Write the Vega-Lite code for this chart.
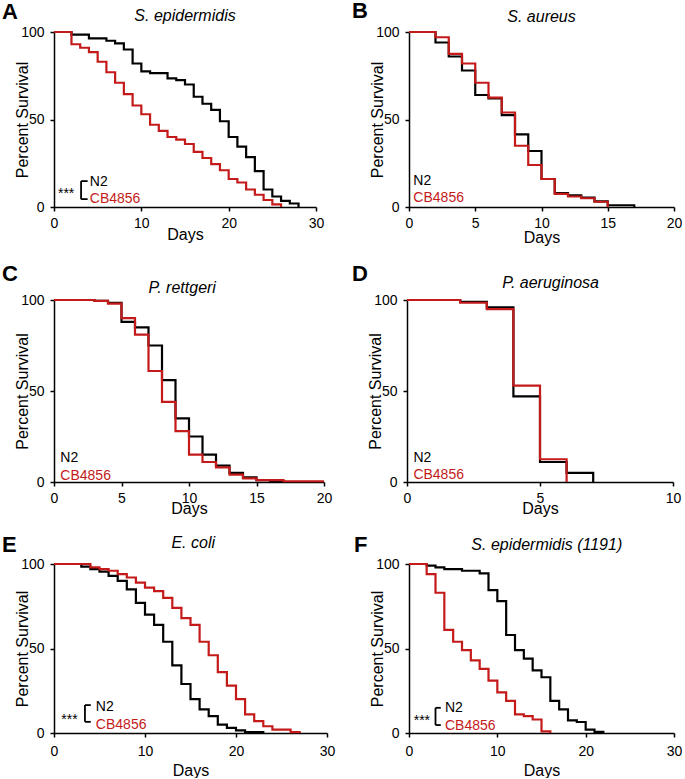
{
  "$schema": "https://vega.github.io/schema/vega-lite/v6.json",
  "background": "white",
  "padding": {"left": 2, "top": 0, "right": 0, "bottom": 0},
  "spacing": 18,
  "datasets": {
    "surv": [
      {"panel":"A","strain":"N2","day":0,"survival":100},{"panel":"A","strain":"N2","day":2,"survival":98.5},{"panel":"A","strain":"N2","day":4,"survival":96.4},{"panel":"A","strain":"N2","day":6,"survival":95},{"panel":"A","strain":"N2","day":7,"survival":93.5},{"panel":"A","strain":"N2","day":8,"survival":90},{"panel":"A","strain":"N2","day":9,"survival":82},{"panel":"A","strain":"N2","day":10,"survival":77.5},{"panel":"A","strain":"N2","day":11,"survival":76.5},{"panel":"A","strain":"N2","day":13,"survival":73.5},{"panel":"A","strain":"N2","day":14,"survival":72.5},{"panel":"A","strain":"N2","day":15,"survival":70},{"panel":"A","strain":"N2","day":16,"survival":63},{"panel":"A","strain":"N2","day":17,"survival":59},{"panel":"A","strain":"N2","day":18,"survival":55.5},{"panel":"A","strain":"N2","day":19,"survival":49},{"panel":"A","strain":"N2","day":20,"survival":40},{"panel":"A","strain":"N2","day":21,"survival":34.5},{"panel":"A","strain":"N2","day":22,"survival":28.5},{"panel":"A","strain":"N2","day":23,"survival":20.5},{"panel":"A","strain":"N2","day":24,"survival":10},{"panel":"A","strain":"N2","day":25,"survival":6},{"panel":"A","strain":"N2","day":26,"survival":3.5},{"panel":"A","strain":"N2","day":27,"survival":2},{"panel":"A","strain":"N2","day":28,"survival":0},
      {"panel":"A","strain":"CB4856","day":0,"survival":100},{"panel":"A","strain":"CB4856","day":2,"survival":93},{"panel":"A","strain":"CB4856","day":3,"survival":91},{"panel":"A","strain":"CB4856","day":4,"survival":88.5},{"panel":"A","strain":"CB4856","day":5,"survival":83},{"panel":"A","strain":"CB4856","day":6,"survival":77},{"panel":"A","strain":"CB4856","day":7,"survival":71},{"panel":"A","strain":"CB4856","day":8,"survival":64.5},{"panel":"A","strain":"CB4856","day":9,"survival":58},{"panel":"A","strain":"CB4856","day":10,"survival":53},{"panel":"A","strain":"CB4856","day":11,"survival":47},{"panel":"A","strain":"CB4856","day":12,"survival":43.5},{"panel":"A","strain":"CB4856","day":13,"survival":40},{"panel":"A","strain":"CB4856","day":14,"survival":38.5},{"panel":"A","strain":"CB4856","day":15,"survival":36},{"panel":"A","strain":"CB4856","day":16,"survival":31.5},{"panel":"A","strain":"CB4856","day":17,"survival":28},{"panel":"A","strain":"CB4856","day":18,"survival":24.5},{"panel":"A","strain":"CB4856","day":19,"survival":21},{"panel":"A","strain":"CB4856","day":20,"survival":16},{"panel":"A","strain":"CB4856","day":21,"survival":14},{"panel":"A","strain":"CB4856","day":22,"survival":10},{"panel":"A","strain":"CB4856","day":23,"survival":7},{"panel":"A","strain":"CB4856","day":24,"survival":4},{"panel":"A","strain":"CB4856","day":25,"survival":1.5},{"panel":"A","strain":"CB4856","day":26,"survival":0},
      {"panel":"B","strain":"N2","day":0,"survival":100},{"panel":"B","strain":"N2","day":2,"survival":94},{"panel":"B","strain":"N2","day":3,"survival":86},{"panel":"B","strain":"N2","day":4,"survival":78},{"panel":"B","strain":"N2","day":5,"survival":64},{"panel":"B","strain":"N2","day":6,"survival":62},{"panel":"B","strain":"N2","day":7,"survival":52.5},{"panel":"B","strain":"N2","day":8,"survival":41.5},{"panel":"B","strain":"N2","day":9,"survival":32},{"panel":"B","strain":"N2","day":10,"survival":16},{"panel":"B","strain":"N2","day":11,"survival":8},{"panel":"B","strain":"N2","day":12,"survival":6.6},{"panel":"B","strain":"N2","day":13,"survival":5.4},{"panel":"B","strain":"N2","day":14,"survival":3.2},{"panel":"B","strain":"N2","day":15,"survival":1},{"panel":"B","strain":"N2","day":17,"survival":0},
      {"panel":"B","strain":"CB4856","day":0,"survival":100},{"panel":"B","strain":"CB4856","day":2,"survival":97},{"panel":"B","strain":"CB4856","day":3,"survival":87.5},{"panel":"B","strain":"CB4856","day":4,"survival":82},{"panel":"B","strain":"CB4856","day":5,"survival":71},{"panel":"B","strain":"CB4856","day":6,"survival":62.5},{"panel":"B","strain":"CB4856","day":7,"survival":54},{"panel":"B","strain":"CB4856","day":8,"survival":35},{"panel":"B","strain":"CB4856","day":9,"survival":24},{"panel":"B","strain":"CB4856","day":10,"survival":16},{"panel":"B","strain":"CB4856","day":11,"survival":7.5},{"panel":"B","strain":"CB4856","day":12,"survival":6},{"panel":"B","strain":"CB4856","day":13,"survival":5},{"panel":"B","strain":"CB4856","day":14,"survival":3},{"panel":"B","strain":"CB4856","day":15,"survival":0},
      {"panel":"C","strain":"N2","day":0,"survival":100},{"panel":"C","strain":"N2","day":3,"survival":99.5},{"panel":"C","strain":"N2","day":4,"survival":98.5},{"panel":"C","strain":"N2","day":5,"survival":88},{"panel":"C","strain":"N2","day":6,"survival":85},{"panel":"C","strain":"N2","day":7,"survival":75},{"panel":"C","strain":"N2","day":8,"survival":56},{"panel":"C","strain":"N2","day":9,"survival":35},{"panel":"C","strain":"N2","day":10,"survival":25},{"panel":"C","strain":"N2","day":11,"survival":15},{"panel":"C","strain":"N2","day":12,"survival":9},{"panel":"C","strain":"N2","day":13,"survival":5},{"panel":"C","strain":"N2","day":14,"survival":2.5},{"panel":"C","strain":"N2","day":15,"survival":1},{"panel":"C","strain":"N2","day":16,"survival":0.5},{"panel":"C","strain":"N2","day":17,"survival":0},
      {"panel":"C","strain":"CB4856","day":0,"survival":100},{"panel":"C","strain":"CB4856","day":3,"survival":99.5},{"panel":"C","strain":"CB4856","day":4,"survival":98},{"panel":"C","strain":"CB4856","day":5,"survival":90},{"panel":"C","strain":"CB4856","day":6,"survival":81},{"panel":"C","strain":"CB4856","day":7,"survival":61},{"panel":"C","strain":"CB4856","day":8,"survival":44},{"panel":"C","strain":"CB4856","day":9,"survival":28},{"panel":"C","strain":"CB4856","day":10,"survival":15},{"panel":"C","strain":"CB4856","day":11,"survival":11},{"panel":"C","strain":"CB4856","day":12,"survival":8},{"panel":"C","strain":"CB4856","day":13,"survival":4},{"panel":"C","strain":"CB4856","day":14,"survival":2},{"panel":"C","strain":"CB4856","day":15,"survival":1},{"panel":"C","strain":"CB4856","day":17,"survival":0.4},{"panel":"C","strain":"CB4856","day":20,"survival":0.4},
      {"panel":"D","strain":"N2","day":0,"survival":100},{"panel":"D","strain":"N2","day":2,"survival":99},{"panel":"D","strain":"N2","day":3,"survival":96},{"panel":"D","strain":"N2","day":4,"survival":47},{"panel":"D","strain":"N2","day":5,"survival":11},{"panel":"D","strain":"N2","day":6,"survival":5},{"panel":"D","strain":"N2","day":7,"survival":0},
      {"panel":"D","strain":"CB4856","day":0,"survival":100},{"panel":"D","strain":"CB4856","day":2,"survival":98.5},{"panel":"D","strain":"CB4856","day":3,"survival":95},{"panel":"D","strain":"CB4856","day":4,"survival":53},{"panel":"D","strain":"CB4856","day":5,"survival":12.5},{"panel":"D","strain":"CB4856","day":6,"survival":0},
      {"panel":"E","strain":"N2","day":0,"survival":100},{"panel":"E","strain":"N2","day":3,"survival":98.5},{"panel":"E","strain":"N2","day":4,"survival":97},{"panel":"E","strain":"N2","day":5,"survival":95.5},{"panel":"E","strain":"N2","day":6,"survival":93},{"panel":"E","strain":"N2","day":7,"survival":90},{"panel":"E","strain":"N2","day":8,"survival":85},{"panel":"E","strain":"N2","day":9,"survival":77},{"panel":"E","strain":"N2","day":10,"survival":70},{"panel":"E","strain":"N2","day":11,"survival":64},{"panel":"E","strain":"N2","day":12,"survival":54},{"panel":"E","strain":"N2","day":13,"survival":40},{"panel":"E","strain":"N2","day":14,"survival":29},{"panel":"E","strain":"N2","day":15,"survival":20},{"panel":"E","strain":"N2","day":16,"survival":14},{"panel":"E","strain":"N2","day":17,"survival":10},{"panel":"E","strain":"N2","day":18,"survival":5},{"panel":"E","strain":"N2","day":19,"survival":3},{"panel":"E","strain":"N2","day":20,"survival":1.5},{"panel":"E","strain":"N2","day":21,"survival":0.5},{"panel":"E","strain":"N2","day":23,"survival":0},
      {"panel":"E","strain":"CB4856","day":0,"survival":100},{"panel":"E","strain":"CB4856","day":4,"survival":98},{"panel":"E","strain":"CB4856","day":5,"survival":97},{"panel":"E","strain":"CB4856","day":6,"survival":96},{"panel":"E","strain":"CB4856","day":7,"survival":94},{"panel":"E","strain":"CB4856","day":8,"survival":92},{"panel":"E","strain":"CB4856","day":9,"survival":89},{"panel":"E","strain":"CB4856","day":10,"survival":86},{"panel":"E","strain":"CB4856","day":11,"survival":84},{"panel":"E","strain":"CB4856","day":12,"survival":80},{"panel":"E","strain":"CB4856","day":13,"survival":74},{"panel":"E","strain":"CB4856","day":14,"survival":68},{"panel":"E","strain":"CB4856","day":15,"survival":64},{"panel":"E","strain":"CB4856","day":16,"survival":54},{"panel":"E","strain":"CB4856","day":17,"survival":46},{"panel":"E","strain":"CB4856","day":18,"survival":36},{"panel":"E","strain":"CB4856","day":19,"survival":28},{"panel":"E","strain":"CB4856","day":20,"survival":20},{"panel":"E","strain":"CB4856","day":21,"survival":11},{"panel":"E","strain":"CB4856","day":22,"survival":7},{"panel":"E","strain":"CB4856","day":23,"survival":4},{"panel":"E","strain":"CB4856","day":24,"survival":2},{"panel":"E","strain":"CB4856","day":26,"survival":0.5},{"panel":"E","strain":"CB4856","day":27,"survival":0},
      {"panel":"F","strain":"N2","day":0,"survival":100},{"panel":"F","strain":"N2","day":2,"survival":99},{"panel":"F","strain":"N2","day":3,"survival":98},{"panel":"F","strain":"N2","day":4,"survival":97},{"panel":"F","strain":"N2","day":6,"survival":96},{"panel":"F","strain":"N2","day":8,"survival":94.5},{"panel":"F","strain":"N2","day":9,"survival":84.5},{"panel":"F","strain":"N2","day":10,"survival":78},{"panel":"F","strain":"N2","day":11,"survival":58},{"panel":"F","strain":"N2","day":12,"survival":49},{"panel":"F","strain":"N2","day":13,"survival":44},{"panel":"F","strain":"N2","day":14,"survival":37},{"panel":"F","strain":"N2","day":15,"survival":33},{"panel":"F","strain":"N2","day":16,"survival":19},{"panel":"F","strain":"N2","day":17,"survival":14},{"panel":"F","strain":"N2","day":18,"survival":7.5},{"panel":"F","strain":"N2","day":19,"survival":6.5},{"panel":"F","strain":"N2","day":20,"survival":2},{"panel":"F","strain":"N2","day":21,"survival":0.7},{"panel":"F","strain":"N2","day":22,"survival":0},
      {"panel":"F","strain":"CB4856","day":0,"survival":100},{"panel":"F","strain":"CB4856","day":2,"survival":94},{"panel":"F","strain":"CB4856","day":3,"survival":83},{"panel":"F","strain":"CB4856","day":4,"survival":61},{"panel":"F","strain":"CB4856","day":5,"survival":54},{"panel":"F","strain":"CB4856","day":6,"survival":49},{"panel":"F","strain":"CB4856","day":7,"survival":43},{"panel":"F","strain":"CB4856","day":8,"survival":38},{"panel":"F","strain":"CB4856","day":9,"survival":31},{"panel":"F","strain":"CB4856","day":10,"survival":24},{"panel":"F","strain":"CB4856","day":11,"survival":19},{"panel":"F","strain":"CB4856","day":12,"survival":11},{"panel":"F","strain":"CB4856","day":13,"survival":10},{"panel":"F","strain":"CB4856","day":14,"survival":8},{"panel":"F","strain":"CB4856","day":15,"survival":1},{"panel":"F","strain":"CB4856","day":16,"survival":0}
    ],
    "labels": [
      {"panel":"A","strain":"sig","text":"***","day":0.45,"survival":7.4},{"panel":"A","strain":"N2","text":"N2","day":4.1,"survival":14.4},{"panel":"A","strain":"CB4856","text":"CB4856","day":4.1,"survival":4.6},
      {"panel":"B","strain":"N2","text":"N2","day":0.33,"survival":14.7},{"panel":"B","strain":"CB4856","text":"CB4856","day":0.33,"survival":4.9},
      {"panel":"C","strain":"N2","text":"N2","day":0.47,"survival":13.4},{"panel":"C","strain":"CB4856","text":"CB4856","day":0.47,"survival":3.4},
      {"panel":"D","strain":"N2","text":"N2","day":0.24,"survival":13.2},{"panel":"D","strain":"CB4856","text":"CB4856","day":0.24,"survival":3.7},
      {"panel":"E","strain":"sig","text":"***","day":0.8,"survival":7.7},{"panel":"E","strain":"N2","text":"N2","day":4.6,"survival":15.5},{"panel":"E","strain":"CB4856","text":"CB4856","day":4.6,"survival":5},
      {"panel":"F","strain":"sig","text":"***","day":0.53,"survival":7.2},{"panel":"F","strain":"N2","text":"N2","day":4.07,"survival":14.5},{"panel":"F","strain":"CB4856","text":"CB4856","day":4.07,"survival":4.3}
    ],
    "brackets": [
      {"panel":"A","day":3.1,"day2":3.1,"survival":4.5,"survival2":14.8},{"panel":"A","day":3.1,"day2":3.85,"survival":14.8,"survival2":14.8},{"panel":"A","day":3.1,"day2":3.85,"survival":4.5,"survival2":4.5},
      {"panel":"E","day":3.4,"day2":3.4,"survival":6.6,"survival2":16.5},{"panel":"E","day":3.4,"day2":4.04,"survival":16.5,"survival2":16.5},{"panel":"E","day":3.4,"day2":4.04,"survival":6.6,"survival2":6.6},
      {"panel":"F","day":3.0,"day2":3.0,"survival":4.7,"survival2":14.9},{"panel":"F","day":3.0,"day2":3.6,"survival":14.9,"survival2":14.9},{"panel":"F","day":3.0,"day2":3.6,"survival":4.7,"survival2":4.7}
    ]
  },
  "vconcat": [
    {
      "bounds": "flush",
      "spacing": 93,
      "hconcat": [
        {
          "width": 262, "height": 175,
          "layer": [
            {"data":{"name":"surv"},"transform":[{"filter":"datum.panel==='A' && datum.strain==='N2'"}],"mark":{"type":"line","interpolate":"step-after","strokeWidth":2.2},
             "encoding":{"x":{"field":"day","type":"quantitative","scale":{"domain":[0,30],"nice":false},"axis":{"title":"Days","values":[0,10,20,30],"titleBaseline":"alphabetic","titleY":32,"labelPadding":5}},
               "y":{"field":"survival","type":"quantitative","scale":{"domain":[0,100],"nice":false},"axis":{"title":"Percent Survival","values":[0,50,100],"titleBaseline":"alphabetic","titleX":-27,"labelPadding":6}},
               "color":{"field":"strain","type":"nominal","scale":{"domain":["N2","CB4856","sig"],"range":["#000000","#c41a1a","#000000"]},"legend":null}}},
            {"data":{"name":"surv"},"transform":[{"filter":"datum.panel==='A' && datum.strain==='CB4856'"}],"mark":{"type":"line","interpolate":"step-after","strokeWidth":2.2},
             "encoding":{"x":{"field":"day","type":"quantitative"},"y":{"field":"survival","type":"quantitative"},"color":{"field":"strain","type":"nominal","legend":null}}},
            {"data":{"name":"labels"},"transform":[{"filter":"datum.panel==='A'"}],"mark":{"type":"text","align":"left","baseline":"middle","fontSize":14},
             "encoding":{"x":{"field":"day","type":"quantitative"},"y":{"field":"survival","type":"quantitative"},"text":{"field":"text"},"color":{"field":"strain","type":"nominal","legend":null}}},
            {"data":{"name":"brackets"},"transform":[{"filter":"datum.panel==='A'"}],"mark":{"type":"rule","color":"#000000","strokeWidth":1.8},
             "encoding":{"x":{"field":"day","type":"quantitative"},"x2":{"field":"day2"},"y":{"field":"survival","type":"quantitative"},"y2":{"field":"survival2"}}},
            {"data":{"values":[{}]},"mark":{"type":"text","text":"A","align":"left","baseline":"alphabetic","fontSize":22,"fontWeight":"bold","dx":-52,"dy":-13,"color":"#000000"},
             "encoding":{"x":{"datum":0},"y":{"datum":100}}},
            {"data":{"values":[{}]},"mark":{"type":"text","text":"S. epidermidis","align":"center","baseline":"alphabetic","fontSize":16,"fontStyle":"italic","dy":-11,"color":"#000000"},
             "encoding":{"x":{"datum":15},"y":{"datum":100}}}
          ]
        },
        {
          "width": 265, "height": 175,
          "layer": [
            {"data":{"name":"surv"},"transform":[{"filter":"datum.panel==='B' && datum.strain==='N2'"}],"mark":{"type":"line","interpolate":"step-after","strokeWidth":2.2},
             "encoding":{"x":{"field":"day","type":"quantitative","scale":{"domain":[0,20],"nice":false},"axis":{"title":"Days","values":[0,5,10,15,20],"titleBaseline":"alphabetic","titleY":35,"labelPadding":5}},
               "y":{"field":"survival","type":"quantitative","scale":{"domain":[0,100],"nice":false},"axis":{"title":"Percent Survival","values":[0,50,100],"titleBaseline":"alphabetic","titleX":-27,"labelPadding":6}},
               "color":{"field":"strain","type":"nominal","legend":null}}},
            {"data":{"name":"surv"},"transform":[{"filter":"datum.panel==='B' && datum.strain==='CB4856'"}],"mark":{"type":"line","interpolate":"step-after","strokeWidth":2.2},
             "encoding":{"x":{"field":"day","type":"quantitative"},"y":{"field":"survival","type":"quantitative"},"color":{"field":"strain","type":"nominal","legend":null}}},
            {"data":{"name":"labels"},"transform":[{"filter":"datum.panel==='B'"}],"mark":{"type":"text","align":"left","baseline":"middle","fontSize":14},
             "encoding":{"x":{"field":"day","type":"quantitative"},"y":{"field":"survival","type":"quantitative"},"text":{"field":"text"},"color":{"field":"strain","type":"nominal","legend":null}}},
            {"data":{"values":[{}]},"mark":{"type":"text","text":"B","align":"left","baseline":"alphabetic","fontSize":22,"fontWeight":"bold","dx":-57,"dy":-14,"color":"#000000"},
             "encoding":{"x":{"datum":0},"y":{"datum":100}}},
            {"data":{"values":[{}]},"mark":{"type":"text","text":"S. aureus","align":"center","baseline":"alphabetic","fontSize":16,"fontStyle":"italic","dy":-10,"color":"#000000"},
             "encoding":{"x":{"datum":10},"y":{"datum":100}}}
          ]
        }
      ]
    },
    {
      "bounds": "flush",
      "spacing": 83,
      "hconcat": [
        {
          "width": 270, "height": 182,
          "layer": [
            {"data":{"name":"surv"},"transform":[{"filter":"datum.panel==='C' && datum.strain==='N2'"}],"mark":{"type":"line","interpolate":"step-after","strokeWidth":2.2},
             "encoding":{"x":{"field":"day","type":"quantitative","scale":{"domain":[0,20],"nice":false},"axis":{"title":"Days","values":[0,5,10,15,20],"titleBaseline":"alphabetic","titleY":31,"labelPadding":5}},
               "y":{"field":"survival","type":"quantitative","scale":{"domain":[0,100],"nice":false},"axis":{"title":"Percent Survival","values":[0,50,100],"titleBaseline":"alphabetic","titleX":-27,"labelPadding":6}},
               "color":{"field":"strain","type":"nominal","legend":null}}},
            {"data":{"name":"surv"},"transform":[{"filter":"datum.panel==='C' && datum.strain==='CB4856'"}],"mark":{"type":"line","interpolate":"step-after","strokeWidth":2.2},
             "encoding":{"x":{"field":"day","type":"quantitative"},"y":{"field":"survival","type":"quantitative"},"color":{"field":"strain","type":"nominal","legend":null}}},
            {"data":{"name":"labels"},"transform":[{"filter":"datum.panel==='C'"}],"mark":{"type":"text","align":"left","baseline":"middle","fontSize":14},
             "encoding":{"x":{"field":"day","type":"quantitative"},"y":{"field":"survival","type":"quantitative"},"text":{"field":"text"},"color":{"field":"strain","type":"nominal","legend":null}}},
            {"data":{"values":[{}]},"mark":{"type":"text","text":"C","align":"left","baseline":"alphabetic","fontSize":22,"fontWeight":"bold","dx":-52,"dy":-19,"color":"#000000"},
             "encoding":{"x":{"datum":0},"y":{"datum":100}}},
            {"data":{"values":[{}]},"mark":{"type":"text","text":"P. rettgeri","align":"center","baseline":"alphabetic","fontSize":16,"fontStyle":"italic","dy":-7,"color":"#000000"},
             "encoding":{"x":{"datum":9.5},"y":{"datum":100}}}
          ]
        },
        {
          "width": 266, "height": 182,
          "layer": [
            {"data":{"name":"surv"},"transform":[{"filter":"datum.panel==='D' && datum.strain==='N2'"}],"mark":{"type":"line","interpolate":"step-after","strokeWidth":2.2},
             "encoding":{"x":{"field":"day","type":"quantitative","scale":{"domain":[0,10],"nice":false},"axis":{"title":"Days","values":[0,5,10],"titleBaseline":"alphabetic","titleY":31,"labelPadding":5}},
               "y":{"field":"survival","type":"quantitative","scale":{"domain":[0,100],"nice":false},"axis":{"title":"Percent Survival","values":[0,50,100],"titleBaseline":"alphabetic","titleX":-27,"labelPadding":6}},
               "color":{"field":"strain","type":"nominal","legend":null}}},
            {"data":{"name":"surv"},"transform":[{"filter":"datum.panel==='D' && datum.strain==='CB4856'"}],"mark":{"type":"line","interpolate":"step-after","strokeWidth":2.2},
             "encoding":{"x":{"field":"day","type":"quantitative"},"y":{"field":"survival","type":"quantitative"},"color":{"field":"strain","type":"nominal","legend":null}}},
            {"data":{"name":"labels"},"transform":[{"filter":"datum.panel==='D'"}],"mark":{"type":"text","align":"left","baseline":"middle","fontSize":14},
             "encoding":{"x":{"field":"day","type":"quantitative"},"y":{"field":"survival","type":"quantitative"},"text":{"field":"text"},"color":{"field":"strain","type":"nominal","legend":null}}},
            {"data":{"values":[{}]},"mark":{"type":"text","text":"D","align":"left","baseline":"alphabetic","fontSize":22,"fontWeight":"bold","dx":-55,"dy":-19,"color":"#000000"},
             "encoding":{"x":{"datum":0},"y":{"datum":100}}},
            {"data":{"values":[{}]},"mark":{"type":"text","text":"P. aeruginosa","align":"center","baseline":"alphabetic","fontSize":16,"fontStyle":"italic","dy":-12,"color":"#000000"},
             "encoding":{"x":{"datum":5.4},"y":{"datum":100}}}
          ]
        }
      ]
    },
    {
      "bounds": "flush",
      "spacing": 82,
      "hconcat": [
        {
          "width": 273, "height": 169,
          "layer": [
            {"data":{"name":"surv"},"transform":[{"filter":"datum.panel==='E' && datum.strain==='N2'"}],"mark":{"type":"line","interpolate":"step-after","strokeWidth":2.2},
             "encoding":{"x":{"field":"day","type":"quantitative","scale":{"domain":[0,30],"nice":false},"axis":{"title":"Days","values":[0,10,20,30],"titleBaseline":"alphabetic","titleY":42,"labelPadding":7}},
               "y":{"field":"survival","type":"quantitative","scale":{"domain":[0,100],"nice":false},"axis":{"title":"Percent Survival","values":[0,50,100],"titleBaseline":"alphabetic","titleX":-27,"labelPadding":6}},
               "color":{"field":"strain","type":"nominal","legend":null}}},
            {"data":{"name":"surv"},"transform":[{"filter":"datum.panel==='E' && datum.strain==='CB4856'"}],"mark":{"type":"line","interpolate":"step-after","strokeWidth":2.2},
             "encoding":{"x":{"field":"day","type":"quantitative"},"y":{"field":"survival","type":"quantitative"},"color":{"field":"strain","type":"nominal","legend":null}}},
            {"data":{"name":"labels"},"transform":[{"filter":"datum.panel==='E'"}],"mark":{"type":"text","align":"left","baseline":"middle","fontSize":14},
             "encoding":{"x":{"field":"day","type":"quantitative"},"y":{"field":"survival","type":"quantitative"},"text":{"field":"text"},"color":{"field":"strain","type":"nominal","legend":null}}},
            {"data":{"name":"brackets"},"transform":[{"filter":"datum.panel==='E'"}],"mark":{"type":"rule","color":"#000000","strokeWidth":1.8},
             "encoding":{"x":{"field":"day","type":"quantitative"},"x2":{"field":"day2"},"y":{"field":"survival","type":"quantitative"},"y2":{"field":"survival2"}}},
            {"data":{"values":[{}]},"mark":{"type":"text","text":"E","align":"left","baseline":"alphabetic","fontSize":22,"fontWeight":"bold","dx":-52,"dy":-12,"color":"#000000"},
             "encoding":{"x":{"datum":0},"y":{"datum":100}}},
            {"data":{"values":[{}]},"mark":{"type":"text","text":"E. coli","align":"center","baseline":"alphabetic","fontSize":16,"fontStyle":"italic","dy":-16,"color":"#000000"},
             "encoding":{"x":{"datum":15.3},"y":{"datum":100}}}
          ]
        },
        {
          "width": 265, "height": 169,
          "layer": [
            {"data":{"name":"surv"},"transform":[{"filter":"datum.panel==='F' && datum.strain==='N2'"}],"mark":{"type":"line","interpolate":"step-after","strokeWidth":2.2},
             "encoding":{"x":{"field":"day","type":"quantitative","scale":{"domain":[0,30],"nice":false},"axis":{"title":"Days","values":[0,10,20,30],"titleBaseline":"alphabetic","titleY":42,"labelPadding":7}},
               "y":{"field":"survival","type":"quantitative","scale":{"domain":[0,100],"nice":false},"axis":{"title":"Percent Survival","values":[0,50,100],"titleBaseline":"alphabetic","titleX":-27,"labelPadding":6}},
               "color":{"field":"strain","type":"nominal","legend":null}}},
            {"data":{"name":"surv"},"transform":[{"filter":"datum.panel==='F' && datum.strain==='CB4856'"}],"mark":{"type":"line","interpolate":"step-after","strokeWidth":2.2},
             "encoding":{"x":{"field":"day","type":"quantitative"},"y":{"field":"survival","type":"quantitative"},"color":{"field":"strain","type":"nominal","legend":null}}},
            {"data":{"name":"labels"},"transform":[{"filter":"datum.panel==='F'"}],"mark":{"type":"text","align":"left","baseline":"middle","fontSize":14},
             "encoding":{"x":{"field":"day","type":"quantitative"},"y":{"field":"survival","type":"quantitative"},"text":{"field":"text"},"color":{"field":"strain","type":"nominal","legend":null}}},
            {"data":{"name":"brackets"},"transform":[{"filter":"datum.panel==='F'"}],"mark":{"type":"rule","color":"#000000","strokeWidth":1.8},
             "encoding":{"x":{"field":"day","type":"quantitative"},"x2":{"field":"day2"},"y":{"field":"survival","type":"quantitative"},"y2":{"field":"survival2"}}},
            {"data":{"values":[{}]},"mark":{"type":"text","text":"F","align":"left","baseline":"alphabetic","fontSize":22,"fontWeight":"bold","dx":-55,"dy":-12,"color":"#000000"},
             "encoding":{"x":{"datum":0},"y":{"datum":100}}},
            {"data":{"values":[{}]},"mark":{"type":"text","text":"S. epidermidis (1191)","align":"center","baseline":"alphabetic","fontSize":16,"fontStyle":"italic","dy":-14,"color":"#000000"},
             "encoding":{"x":{"datum":15.6},"y":{"datum":100}}}
          ]
        }
      ]
    }
  ],
  "config": {
    "font": "Liberation Sans",
    "view": {"stroke": null},
    "text": {"font": "Liberation Sans"},
    "axis": {
      "grid": false,
      "domainColor": "#000000",
      "domainWidth": 1.5,
      "tickColor": "#000000",
      "tickWidth": 1.5,
      "tickSize": 4,
      "labelFont": "Liberation Sans",
      "labelFontSize": 14,
      "labelColor": "#000000",
      "labelFlush": false,
      "labelOverlap": false,
      "titleFont": "Liberation Sans",
      "titleFontSize": 16,
      "titleFontWeight": "normal",
      "titleColor": "#000000"
    }
  }
}
